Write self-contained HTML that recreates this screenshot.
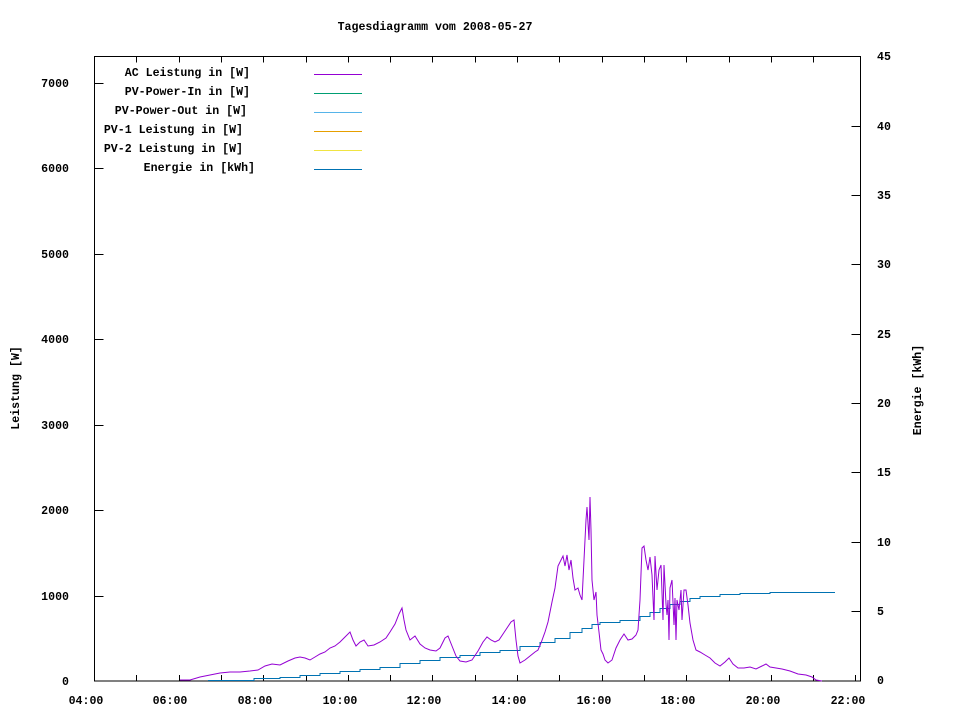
<!DOCTYPE html>
<html><head><meta charset="utf-8"><style>
body{margin:0;background:#fff}
svg text{font-family:"Liberation Mono",monospace;font-size:11.6px;font-weight:bold;fill:#000}
</style></head><body>
<svg width="960" height="720" xmlns="http://www.w3.org/2000/svg">
<rect width="960" height="720" fill="#fff"/>
<text x="435" y="30" text-anchor="middle">Tagesdiagramm vom 2008-05-27</text>
<rect x="94.5" y="56.5" width="766" height="624.5" fill="none" stroke="#000" stroke-width="1"/>
<g stroke="#000" stroke-width="1">
<path d="M94.5 596.5h9M94.5 510.5h9M94.5 425.5h9M94.5 339.5h9M94.5 254.5h9M94.5 168.5h9M94.5 83.5h9"/>
<path d="M860.5 611.5h-9M860.5 542.5h-9M860.5 472.5h-9M860.5 403.5h-9M860.5 334.5h-9M860.5 264.5h-9M860.5 195.5h-9M860.5 126.5h-9"/>
<path d="M136.5 681v-6M179.5 681v-6M221.5 681v-6M263.5 681v-6M306.5 681v-6M348.5 681v-6M390.5 681v-6M432.5 681v-6M475.5 681v-6M517.5 681v-6M559.5 681v-6M602.5 681v-6M644.5 681v-6M686.5 681v-6M729.5 681v-6M771.5 681v-6M813.5 681v-6M855.5 681v-6"/>
<path d="M136.5 56.5v6M179.5 56.5v6M221.5 56.5v6M263.5 56.5v6M306.5 56.5v6M348.5 56.5v6M390.5 56.5v6M432.5 56.5v6M475.5 56.5v6M517.5 56.5v6M559.5 56.5v6M602.5 56.5v6M644.5 56.5v6M686.5 56.5v6M729.5 56.5v6M771.5 56.5v6M813.5 56.5v6"/>
</g>
<g stroke-width="1">
<path d="M314 74.5h48" stroke="#9400d3"/>
<path d="M314 93.5h48" stroke="#009e73"/>
<path d="M314 112.5h48" stroke="#56b4e9"/>
<path d="M314 131.5h48" stroke="#e69f00"/>
<path d="M314 150.5h48" stroke="#f0e442"/>
<path d="M314 169.5h48" stroke="#0072b2"/>
</g>
<g text-anchor="end">
<text x="69" y="685">0</text><text x="69" y="600">1000</text><text x="69" y="514">2000</text><text x="69" y="429">3000</text><text x="69" y="343">4000</text><text x="69" y="258">5000</text><text x="69" y="172">6000</text><text x="69" y="87">7000</text>
</g>
<g>
<text x="877" y="684">0</text><text x="877" y="615">5</text><text x="877" y="546">10</text><text x="877" y="476">15</text><text x="877" y="407">20</text><text x="877" y="338">25</text><text x="877" y="268">30</text><text x="877" y="199">35</text><text x="877" y="130">40</text><text x="877" y="60">45</text>
</g>
<g text-anchor="middle">
<text x="86" y="704">04:00</text><text x="170" y="704">06:00</text><text x="255" y="704">08:00</text><text x="340" y="704">10:00</text><text x="424" y="704">12:00</text><text x="509" y="704">14:00</text><text x="594" y="704">16:00</text><text x="678" y="704">18:00</text><text x="763" y="704">20:00</text><text x="848" y="704">22:00</text>
</g>
<text transform="translate(19,388) rotate(-90)" text-anchor="middle">Leistung [W]</text>
<text transform="translate(921,390) rotate(-90)" text-anchor="middle">Energie [kWh]</text>
<g text-anchor="end">
<text x="250" y="76">AC Leistung in [W]</text>
<text x="250" y="95">PV-Power-In in [W]</text>
<text x="247" y="114">PV-Power-Out in [W]</text>
<text x="243" y="133">PV-1 Leistung in [W]</text>
<text x="243" y="152">PV-2 Leistung in [W]</text>
<text x="255" y="171">Energie in [kWh]</text>
</g>
<polyline fill="none" stroke="#0072b2" stroke-width="1" points="208,680.5 254,680.5 254,678.5 280,678.5 280,677.5 300,677.5 300,675.5 320,675.5 320,673.5 340,673.5 340,671.5 360,671.5 360,669.5 380,669.5 380,667.5 400,667.5 400,663.5 420,663.5 420,660.5 440,660.5 440,657.5 460,657.5 460,655.5 480,655.5 480,652.5 500,652.5 500,650.5 520,650.5 520,646.5 540,646.5 540,642.5 555,642.5 555,638.5 570,638.5 570,632.5 582,632.5 582,628.5 592,628.5 592,624.5 600,624.5 600,622.5 620,622.5 620,620.5 640,620.5 640,616.5 650,616.5 650,612.5 660,612.5 660,608.5 670,608.5 670,604.5 680,604.5 680,601.5 690,601.5 690,598.5 700,598.5 700,596.5 720,596.5 720,594.5 740,594.5 740,593.5 770,593.5 770,592.5 835,592.5"/>
<polyline fill="none" stroke="#9400d3" stroke-width="1" points="180,680 190,680 200,677 210,675 220,673 230,672 240,672 250,671 258,670 265,666 272,664 280,665 288,661 295,658 300,657 305,658 310,660 315,657 320,654 325,652 330,648 335,646 340,642 345,637 350,632 353,640 356,646 360,642 364,640 368,646 374,645 380,642 386,638 390,632 395,624 399,614 402,608 404,620 406,630 410,640 415,636 420,644 425,648 430,650 436,651 440,648 445,638 448,636 452,646 456,656 460,661 466,662 472,660 478,651 483,642 487,637 491,640 495,642 499,640 503,634 507,628 511,622 514,620 516,640 518,656 520,663 525,660 530,656 535,652 538,650 541,643 545,632 548,622 550,612 552,602 555,588 558,566 561,560 563,556 565,566 567,555 569,570 571,560 573,578 575,590 578,588 580,595 582,600 584,560 586,520 587,507 589,540 590,497 591,530 592,580 594,600 596,592 597,615 599,632 601,650 603,654 605,660 608,663 612,660 616,648 620,640 624,634 628,640 632,639 636,635 638,630 640,600 642,548 644,546 646,560 648,570 650,557 652,575 654,620 655,556 657,590 659,570 661,565 663,620 664,565 666,604 667,615 668,600 669,640 670,588 672,580 674,625 675,598 676,640 677,600 679,610 681,590 682,620 684,590 686,590 688,605 690,623 693,640 696,650 700,652 705,655 710,658 715,663 720,666 725,662 729,658 733,664 738,668 744,668 750,667 756,669 762,666 766,664 770,667 776,668 782,669 790,671 798,674 806,675 812,677 816,680 822,681"/>
</svg>
</body></html>
